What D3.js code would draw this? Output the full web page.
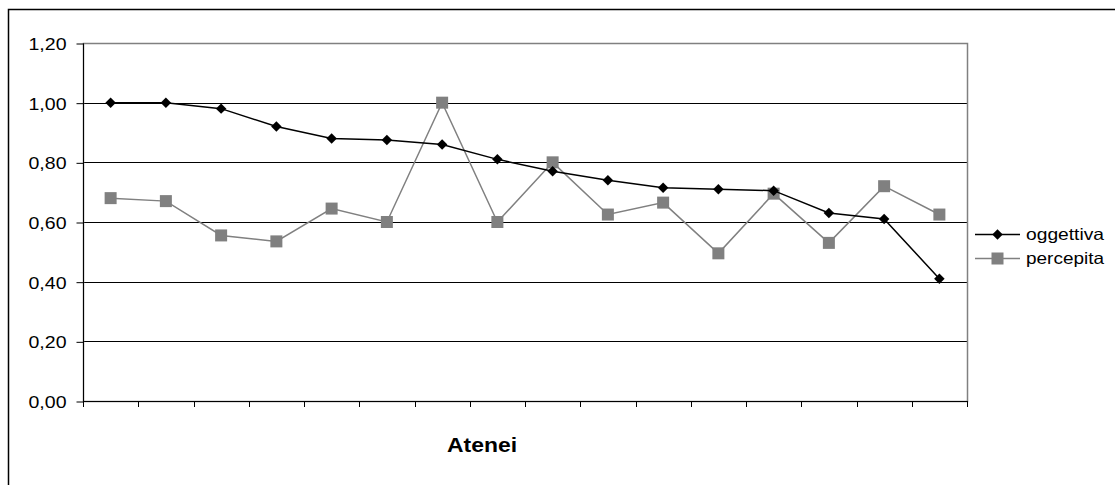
<!DOCTYPE html>
<html><head><meta charset="utf-8">
<script src="https://cdn.jsdelivr.net/npm/d3@7"></script>
<style>body{margin:0;background:#fff}svg{display:block;font-family:"Liberation Sans",Arial,sans-serif}</style>
</head><body><svg id="c" width="1115" height="485"></svg>
<script>
const categories = d3.range(1, 17).map(String);
const oggettiva = [1.00, 1.00, 0.98, 0.92, 0.88, 0.875, 0.86, 0.81, 0.77, 0.74, 0.715, 0.71, 0.705, 0.63, 0.61, 0.41];
const percepita = [0.68, 0.67, 0.555, 0.535, 0.645, 0.60, 1.00, 0.60, 0.80, 0.625, 0.665, 0.495, 0.695, 0.53, 0.72, 0.625];
const yTicks = [0, 0.2, 0.4, 0.6, 0.8, 1.0, 1.2];
const seriesNames = ["oggettiva", "percepita"];

const svg = d3.select("#c");
const L = 83, R = 967, T = 43, B = 401;
const x = d3.scaleBand().domain(categories).range([L, R]);
const y = d3.scaleLinear().domain([0, 1.2]).range([B, T]);
const fmt = v => d3.format(".2f")(v).replace(".", ",");

// outer border
svg.append("rect").attr("x", 8.5).attr("y", 9.5).attr("width", 1120).attr("height", 500)
  .attr("fill", "none").attr("stroke", "#000").attr("stroke-width", 1.5);

// gridlines
svg.append("g").selectAll("line").data(yTicks.filter(t => t > 0 && t < 1.2)).join("line")
  .attr("x1", L).attr("x2", R).attr("y1", d => Math.round(y(d)) + 0.5).attr("y2", d => Math.round(y(d)) + 0.5)
  .attr("stroke", "#000").attr("stroke-width", 1);

// plot border (gray)
svg.append("rect").attr("x", L + 0.5).attr("y", T + 0.5).attr("width", R - L).attr("height", B - T)
  .attr("fill", "none").attr("stroke", "#808080").attr("stroke-width", 1.5);

// y axis
const yAxis = d3.axisLeft(y).tickValues(yTicks).tickFormat(fmt).tickSize(7).tickPadding(10);
const gy = svg.append("g").attr("transform", `translate(${L + 0.5},0.5)`).call(yAxis);
gy.attr("font-size", null).attr("font-family", null);
gy.select(".domain").attr("stroke", "#000").attr("d", `M0,${T}V${B}`);
gy.selectAll(".tick line").attr("stroke", "#000");
gy.selectAll("text").attr("font-size", 16.5).attr("fill", "#000").attr("dy", "0.36em")
  .attr("textLength", 38).attr("lengthAdjust", "spacingAndGlyphs");

// x axis: ticks at band boundaries
const bounds = categories.map(c => x(c)).concat([R]);
const gx = svg.append("g");
gx.append("line").attr("x1", L).attr("x2", R).attr("y1", B + 0.5).attr("y2", B + 0.5).attr("stroke", "#000");
gx.selectAll("line.t").data(bounds).join("line").attr("class", "t")
  .attr("x1", d => Math.round(d) + 0.5).attr("x2", d => Math.round(d) + 0.5)
  .attr("y1", B).attr("y2", B + 6).attr("stroke", "#000");

svg.append("text").attr("x", 447).attr("y", 452)
  .attr("font-size", 21).attr("font-weight", "bold")
  .attr("textLength", 70).attr("lengthAdjust", "spacingAndGlyphs").text("Atenei");

const cx = c => x(c) + x.bandwidth() / 2;
const line = d3.line().x((d, i) => cx(categories[i])).y(d => y(d));

// percepita
svg.append("path").datum(percepita).attr("d", line).attr("fill", "none").attr("stroke", "#808080").attr("stroke-width", 1.5);
svg.append("g").selectAll("rect").data(percepita).join("rect")
  .attr("x", (d, i) => cx(categories[i]) - 6).attr("y", d => y(d) - 6).attr("width", 12).attr("height", 12)
  .attr("fill", "#808080");

// oggettiva
svg.append("path").datum(oggettiva).attr("d", line).attr("fill", "none").attr("stroke", "#000").attr("stroke-width", 1.5);
const diamond = d3.symbol().type(d3.symbolDiamond2).size(70);
svg.append("g").selectAll("path").data(oggettiva).join("path")
  .attr("transform", (d, i) => `translate(${cx(categories[i])},${y(d)})`)
  .attr("d", diamond).attr("fill", "#000");

// legend
const leg = svg.append("g");
const ly = [234, 258];
const lc = ["#000", "#808080"];
seriesNames.forEach((n, i) => {
  leg.append("line").attr("x1", 975).attr("x2", 1020).attr("y1", ly[i] + 0.5).attr("y2", ly[i] + 0.5)
    .attr("stroke", lc[i]).attr("stroke-width", 1.5);
  if (i === 0) {
    leg.append("path").attr("transform", `translate(997.5,${ly[i] + 0.5})`).attr("d", diamond).attr("fill", "#000");
  } else {
    leg.append("rect").attr("x", 991.5).attr("y", ly[i] - 5.5).attr("width", 12).attr("height", 12).attr("fill", "#808080");
  }
  leg.append("text").attr("x", 1026).attr("y", ly[i] + 6).attr("font-size", 16.5)
    .attr("textLength", 78).attr("lengthAdjust", "spacingAndGlyphs").text(n);
});
</script></body></html>
